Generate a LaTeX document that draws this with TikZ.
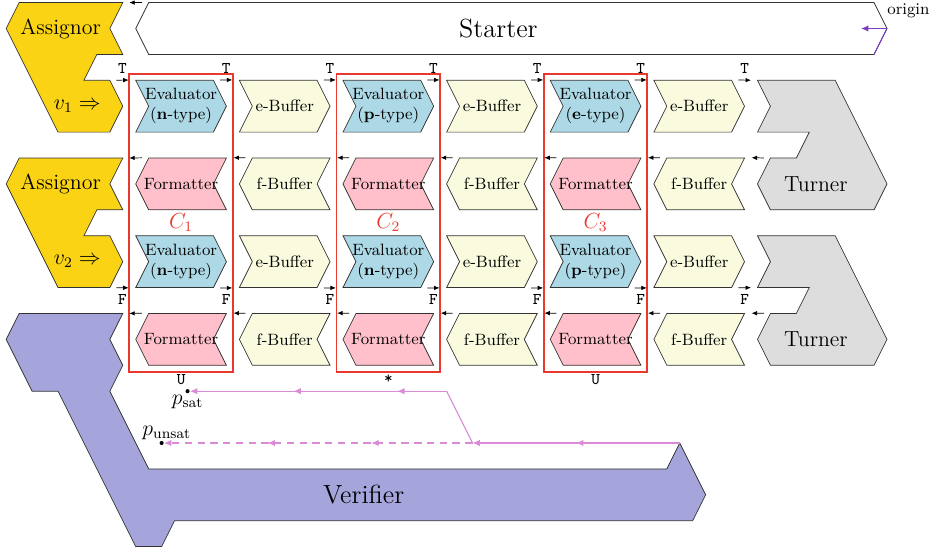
\documentclass[tikz,border=0pt]{standalone}
\usepackage{amsmath}
\usepackage{amssymb}
\usetikzlibrary{shapes.symbols,arrows.meta,calc,decorations.markings}

\definecolor{evalblue}{RGB}{173,216,230}
\definecolor{fmtpink}{RGB}{255,192,203}
\definecolor{bufcream}{RGB}{250,250,222}
\definecolor{assigngold}{RGB}{250,211,21}
\definecolor{turngray}{RGB}{221,221,221}
\definecolor{verifblue}{RGB}{165,165,220}
\definecolor{boxred}{RGB}{232,57,46}
\definecolor{flowpink}{RGB}{218,138,214}
\definecolor{originviolet}{RGB}{122,63,192}

\tikzset{
  block/.style={signal, draw=black!80, signal pointer angle=126.87,
    minimum width=1.75cm, minimum height=1cm, inner xsep=-0.15cm, inner ysep=0pt,
    font=\small, align=center},
  toright/.style={block, signal to=east, signal from=west},
  toleft/.style={block, signal to=west, signal from=east},
  evaluator/.style={toright, fill=evalblue},
  ebuffer/.style={toright, fill=bufcream},
  formatter/.style={toleft, fill=fmtpink},
  fbuffer/.style={toleft, fill=bufcream},
  big/.style={draw=black!80},
  tick/.style={-{Latex[length=3pt,width=2.5pt]}, shorten <=0.125cm, shorten >=0.125cm},
  flag/.style={font=\small\ttfamily, inner sep=3.5pt},
  cbox/.style={rectangle, draw=boxred, line width=1pt, minimum width=2cm, minimum height=5.75cm},
  clabel/.style={text=boxred, font=\large},
  flowline/.style={draw=flowpink, line width=0.6pt},
  flow/.style={flowline, -{Latex[length=4pt,width=3.5pt]}},
  flowtwo/.style={postaction={decorate}, decoration={markings,
    mark=at position -2cm with {\arrow{Latex[length=4pt,width=3.5pt]}}}},
  flowthree/.style={postaction={decorate}, decoration={markings,
    mark=at position -2cm with {\arrow{Latex[length=4pt,width=3.5pt]}},
    mark=at position -4cm with {\arrow{Latex[length=4pt,width=3.5pt]}}}},
  dot/.style={circle, fill=black, inner sep=0.8pt},
}

\begin{document}
\begin{tikzpicture}[node distance=2cm]
  \useasboundingbox (-17.12,-10.11) rectangle (1.10,0.55);

  % starter along the top, origin at its right tip
  \draw[big, fill=white] (-14.25,0.5) coordinate (sw) -- (-0.25,0.5) -- (0,0) coordinate (org)
    -- (-0.25,-0.5) coordinate (se) -- (-14.25,-0.5) -- (-14.5,0) -- cycle;
  \node[font=\Large] (starter) at (-7.5,0) {Starter};
  \coordinate (ox) at (-0.5,0);
  \draw[originviolet, line width=0.6pt] (se) -- (org);
  \draw[originviolet, line width=0.6pt, -{Latex[length=4pt,width=3.5pt]}] (org) -- (ox);
  \node[font=\small, anchor=south west, inner sep=0pt] (orgtext) at (0,0.2) {origin};

  % assignors
  \draw[big, fill=assigngold] (-16.75,0.5) -- (-14.75,0.5) coordinate (a1n) -- (-15,0) -- (-14.75,-0.5)
    -- (-15.25,-0.5) -- (-15.5,-1) -- (-15,-1) coordinate (a1e) -- (-14.75,-1.5) -- (-15,-2)
    -- (-16,-2) -- (-17,0) -- cycle;
  \draw[big, fill=assigngold, yshift=-3cm] (-16.75,0.5) -- (-14.75,0.5) coordinate (a2n) -- (-15,0) -- (-14.75,-0.5)
    -- (-15.25,-0.5) -- (-15.5,-1) -- (-15,-1) -- (-14.75,-1.5) -- (-15,-2) coordinate (a2s)
    -- (-16,-2) -- (-17,0) -- cycle;
  \node[font=\large] (asg1) at (-15.95,0) {Assignor};
  \node[font=\large] (asg2) at (-15.95,-3) {Assignor};
  \node[font=\large, anchor=east] (v1) at (-15.05,-1.5) {$v_1 \Rightarrow$};
  \node[font=\large, anchor=east] (v2) at (-15.05,-4.5) {$v_2 \Rightarrow$};

  % turners
  \draw[big, fill=turngray] (-2.5,-1) coordinate (t1n) -- (-1,-1) -- (0,-3) -- (-0.25,-3.5) -- (-2.25,-3.5)
    -- (-2.5,-3) -- (-2.25,-2.5) coordinate (t1w) -- (-1.75,-2.5) -- (-1.5,-2) -- (-2.5,-2) -- (-2.25,-1.5) -- cycle;
  \draw[big, fill=turngray, yshift=-3cm] (-2.5,-1) -- (-1,-1) -- (0,-3) -- (-0.25,-3.5) -- (-2.25,-3.5)
    -- (-2.5,-3) -- (-2.25,-2.5) coordinate (t2w) -- (-1.75,-2.5) -- (-1.5,-2) -- (-2.5,-2) coordinate (t2s)
    -- (-2.25,-1.5) -- cycle;
  \node[font=\large] (turn1) at (-1.37,-3) {Turner};
  \node[font=\large] (turn2) at (-1.37,-6) {Turner};

  % verifier
  \draw[big, fill=verifblue] (-16.75,-5.5) -- (-14.75,-5.5) coordinate (vn) -- (-15,-6) -- (-14.75,-6.5)
    -- (-15,-7) -- (-14.25,-8.5) -- (-4.25,-8.5) -- (-4,-8) coordinate (vtip) -- (-3.5,-9) -- (-3.75,-9.5)
    -- (-13.75,-9.5) -- (-14,-10) -- (-14.5,-10) -- (-16,-7) -- (-16.5,-7) -- (-17,-6) -- cycle;
  \node[font=\Large] (verif) at (-10.1,-9) {Verifier};

  % first clause row
  \node[evaluator] (ev1) at (-13.625,-1.5) {Evaluator\\(\textbf{n}-type)};
  \node[ebuffer, right of=ev1] (eb1) {e-Buffer};
  \node[evaluator, right of=eb1] (ev2) {Evaluator\\(\textbf{p}-type)};
  \node[ebuffer, right of=ev2] (eb2) {e-Buffer};
  \node[evaluator, right of=eb2] (ev3) {Evaluator\\(\textbf{e}-type)};
  \node[ebuffer, right of=ev3] (eb3) {e-Buffer};

  \node[formatter, below of=ev1, yshift=0.5cm] (fm1) {Formatter};
  \node[fbuffer, right of=fm1] (fb1) {f-Buffer};
  \node[formatter, right of=fb1] (fm2) {Formatter};
  \node[fbuffer, right of=fm2] (fb2) {f-Buffer};
  \node[formatter, right of=fb2] (fm3) {Formatter};
  \node[fbuffer, right of=fm3] (fb3) {f-Buffer};

  % second clause row
  \node[evaluator, below of=fm1, yshift=0.5cm] (ev4) {Evaluator\\(\textbf{n}-type)};
  \node[ebuffer, right of=ev4] (eb4) {e-Buffer};
  \node[evaluator, right of=eb4] (ev5) {Evaluator\\(\textbf{n}-type)};
  \node[ebuffer, right of=ev5] (eb5) {e-Buffer};
  \node[evaluator, right of=eb5] (ev6) {Evaluator\\(\textbf{p}-type)};
  \node[ebuffer, right of=ev6] (eb6) {e-Buffer};

  \node[formatter, below of=ev4, yshift=0.5cm] (fm4) {Formatter};
  \node[fbuffer, right of=fm4] (fb4) {f-Buffer};
  \node[formatter, right of=fb4] (fm5) {Formatter};
  \node[fbuffer, right of=fm5] (fb5) {f-Buffer};
  \node[formatter, right of=fb5] (fm6) {Formatter};
  \node[fbuffer, right of=fm6] (fb6) {f-Buffer};

  % clause boxes
  \node[cbox] (c1) at ($(ev1)!0.5!(fm4)$) {};
  \node[cbox] (c2) at ($(ev2)!0.5!(fm5)$) {};
  \node[cbox] (c3) at ($(ev3)!0.5!(fm6)$) {};
  \node[clabel] (c1name) at (c1) {$C_1$};
  \node[clabel] (c2name) at (c2) {$C_2$};
  \node[clabel] (c3name) at (c3) {$C_3$};
  \node[flag, below, inner sep=1pt] (u1) at (c1.south) {U};
  \node[flag, below, inner sep=1pt] (u2) at (c2.south) {*};
  \node[flag, below, inner sep=1pt] (u3) at (c3.south) {U};

  % true signals
  \draw[tick] (sw) -- (a1n);
  \draw[tick] (a1e) -- node[above, flag] {T} (ev1.north west);
  \draw[tick] (ev1.north east) -- node[above, flag] {T} (eb1.north west);
  \draw[tick] (eb1.north east) -- node[above, flag] {T} (ev2.north west);
  \draw[tick] (ev2.north east) -- node[above, flag] {T} (eb2.north west);
  \draw[tick] (eb2.north east) -- node[above, flag] {T} (ev3.north west);
  \draw[tick] (ev3.north east) -- node[above, flag] {T} (eb3.north west);
  \draw[tick] (eb3.north east) -- node[above, flag] {T} (t1n);

  \draw[tick] (fm1.north west) -- (a2n);
  \draw[tick] (fb1.north west) -- (fm1.north east);
  \draw[tick] (fm2.north west) -- (fb1.north east);
  \draw[tick] (fb2.north west) -- (fm2.north east);
  \draw[tick] (fm3.north west) -- (fb2.north east);
  \draw[tick] (fb3.north west) -- (fm3.north east);
  \draw[tick] (t1w) -- (fb3.north east);

  % false signals
  \draw[tick] (a2s) -- node[below, flag] {F} (ev4.south west);
  \draw[tick] (ev4.south east) -- node[below, flag] {F} (eb4.south west);
  \draw[tick] (eb4.south east) -- node[below, flag] {F} (ev5.south west);
  \draw[tick] (ev5.south east) -- node[below, flag] {F} (eb5.south west);
  \draw[tick] (eb5.south east) -- node[below, flag] {F} (ev6.south west);
  \draw[tick] (ev6.south east) -- node[below, flag] {F} (eb6.south west);
  \draw[tick] (eb6.south east) -- node[below, flag] {F} (t2s);

  \draw[tick] (fm4.north west) -- (vn);
  \draw[tick] (fb4.north west) -- (fm4.north east);
  \draw[tick] (fm5.north west) -- (fb4.north east);
  \draw[tick] (fb5.north west) -- (fm5.north east);
  \draw[tick] (fm6.north west) -- (fb5.north east);
  \draw[tick] (fb6.north west) -- (fm6.north east);
  \draw[tick] (t2w) -- (fb6.north east);

  % verdicts
  \node[dot, label={[inner sep=0.5pt, font=\large]below:$p_{\mathrm{sat}}$}] (psat) at (-13.5,-7) {};
  \node[dot, label={[inner sep=0.5pt, font=\large, xshift=0.1cm]above:$p_{\mathrm{unsat}}$}] (punsat) at (-14,-8) {};
  \coordinate (j) at (-8,-8);
  \coordinate (k) at (-8.5,-7);
  \draw[flow, flowtwo] (vtip) -- (j);
  \draw[flowline] (j) -- (k);
  \draw[flow, flowthree] (k) -- (psat);
  \draw[flow, flowthree, dash pattern=on 4pt off 3pt] (j) -- (punsat);
\end{tikzpicture}
\end{document}
